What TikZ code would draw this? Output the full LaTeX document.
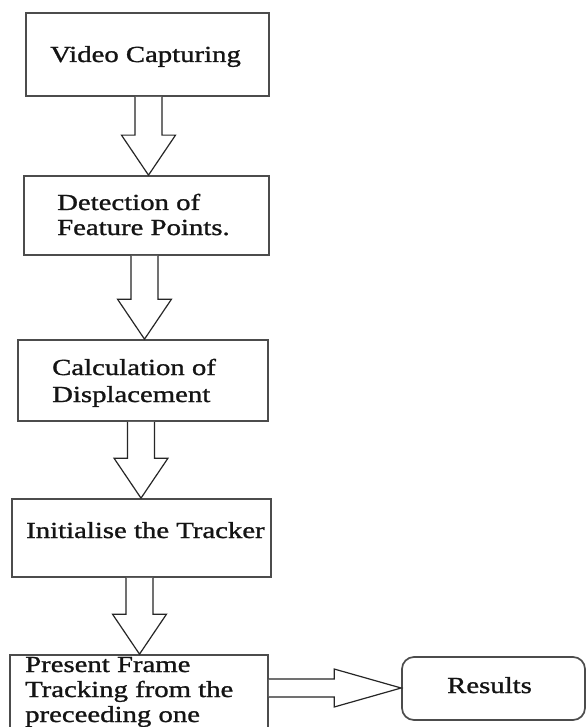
\documentclass[tikz,border=0pt]{standalone}
\usepackage{fontspec}
\newfontfamily\boxfont[FakeStretch=1.25, FakeBold=1.2]{Liberation Serif}
\usetikzlibrary{calc}

\tikzset{
  stepbox/.style={draw=black!70, line width=1.7pt, inner sep=0pt},
  endbox/.style={stepbox, rounded corners=12pt},
  hollow/.style={draw=black!85, line width=1.2pt, fill=white, line join=miter},
  label/.style={anchor=base west, inner sep=0pt, text=black!92,
    font=\boxfont\fontsize{23}{25}\selectfont},
}

% hollow block arrow pointing down: source node, target node, axis x
\newcommand\hollowdown[3]{%
  \draw[hollow] ({#3-13.5},0 |- #1.south)
    -- ($({#3-13.5},0 |- #2.north)+(0,-40)$)
    -- ($({#3-27},0 |- #2.north)+(0,-40)$)
    -- ({#3},0 |- #2.north)
    -- ($({#3+27},0 |- #2.north)+(0,-40)$)
    -- ($({#3+13.5},0 |- #2.north)+(0,-40)$)
    -- ({#3+13.5},0 |- #1.south);
}

\begin{document}
\begin{tikzpicture}[x=1pt, y=-1pt]
  \clip (0,0) rectangle (587,727);
  \fill[white] (0,0) rectangle (587,727);

  % process boxes
  \node[stepbox, minimum width=243pt, minimum height=83pt] (b1) at (147.5,54.5) {};
  \node[stepbox, minimum width=245pt, minimum height=79pt] (b2) at (146.5,215.5) {};
  \node[stepbox, minimum width=250pt, minimum height=81pt] (b3) at (143,380.5) {};
  \node[stepbox, minimum width=259pt, minimum height=78pt] (b4) at (141.5,538) {};
  \node[stepbox, minimum width=258pt, minimum height=95pt] (b5) at (139,702.5) {};
  \node[endbox, minimum width=183pt, minimum height=63pt] (r) at (493.5,688.5) {};

  % box texts
  \node[label] (t1) at (50,62) {Video Capturing};
  \node[label] (t2a) at (57,210) {Detection of};
  \node[label] (t2b) at (57,235) {Feature Points.};
  \node[label] (t3a) at (52,375) {Calculation of};
  \node[label] (t3b) at (52,402) {Displacement};
  \node[label] (t4) at (26,538) {Initialise the Tracker};
  \node[label] (t5a) at (25,672) {Present Frame};
  \node[label] (t5b) at (25,697) {Tracking from the};
  \node[label] (t5c) at (25,722) {preceeding one};
  \node[label] (tr) at (447,693) {Results};

  % flow arrows
  \hollowdown{b1}{b2}{148.5}
  \hollowdown{b2}{b3}{144.5}
  \hollowdown{b3}{b4}{141}
  \hollowdown{b4}{b5}{139.5}

  \draw[hollow] (b5.east |- 0,679)
    -- ($(r.west |- 0,679)+(-67,0)$)
    -- ($(r.west |- 0,669)+(-67,0)$)
    -- (r.west |- 0,688)
    -- ($(r.west |- 0,707)+(-67,0)$)
    -- ($(r.west |- 0,697)+(-67,0)$)
    -- (b5.east |- 0,697);
\end{tikzpicture}
\end{document}
